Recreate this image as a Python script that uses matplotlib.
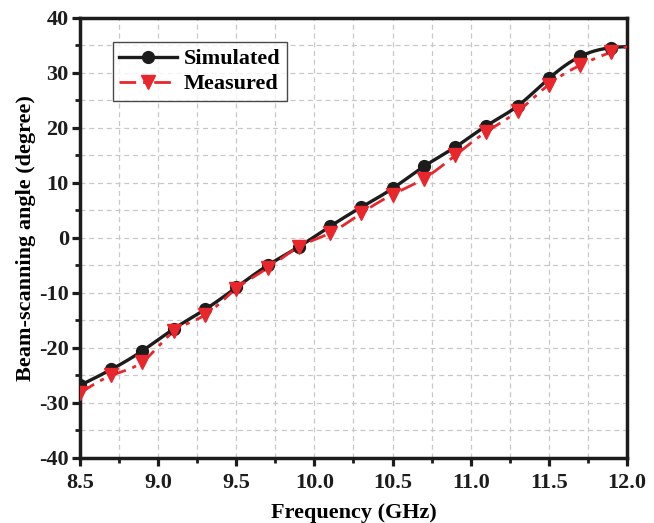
import numpy as np
import matplotlib
matplotlib.use("Agg")
import matplotlib.pyplot as plt
from matplotlib.ticker import MultipleLocator

freq = [8.5, 8.7, 8.9, 9.1, 9.3, 9.5, 9.7, 9.9, 10.1, 10.3, 10.5,
        10.7, 10.9, 11.1, 11.3, 11.5, 11.7, 11.9, 12.0]
simulated = [-26.8, -23.9, -20.5, -16.5, -13.0, -9.0, -5.0, -1.6, 2.1, 5.6,
             9.0, 13.0, 16.5, 20.4, 24.0, 29.0, 33.0, 34.6, 34.8]
measured = [-28.2, -25.0, -22.5, -17.0, -14.0, -9.2, -5.5, -1.6, 0.9, 4.5,
            7.9, 10.8, 15.0, 19.3, 23.0, 27.9, 31.4, 33.8, 34.8]


def spline(x, y, n=600):
    # natural cubic spline, Origin style smooth connection
    x = np.asarray(x, float)
    y = np.asarray(y, float)
    k = len(x)
    h = np.diff(x)
    A = np.zeros((k, k))
    b = np.zeros(k)
    A[0, 0] = A[-1, -1] = 1
    for i in range(1, k - 1):
        A[i, i - 1] = h[i - 1]
        A[i, i] = 2 * (h[i - 1] + h[i])
        A[i, i + 1] = h[i]
        b[i] = 3 * ((y[i + 1] - y[i]) / h[i] - (y[i] - y[i - 1]) / h[i - 1])
    c = np.linalg.solve(A, b)
    xs = np.linspace(x[0], x[-1], n)
    idx = np.clip(np.searchsorted(x, xs) - 1, 0, k - 2)
    dx = xs - x[idx]
    bb = (y[idx + 1] - y[idx]) / h[idx] - h[idx] * (2 * c[idx] + c[idx + 1]) / 3
    d = (c[idx + 1] - c[idx]) / (3 * h[idx])
    ys = y[idx] + bb * dx + c[idx] * dx ** 2 + d * dx ** 3
    return xs, ys


plt.rcParams['font.family'] = ['Liberation Serif', 'DejaVu Serif']
plt.rcParams['font.weight'] = 'bold'
plt.rcParams['axes.unicode_minus'] = False

fig = plt.figure(figsize=(6.54, 5.23), dpi=100)
ax = fig.add_axes([0.1223, 0.1243, 0.8364, 0.8413])

black = '#1c1c1c'
red = '#e8262b'
dashdot = (0, (6, 2.5, 1.5, 2.5))

xs, ys = spline(freq, simulated)
ax.plot(xs, ys, color=black, lw=2.4, zorder=3)
ax.plot(freq[:-1], simulated[:-1], 'o', color=black, ms=8.5, zorder=4)
xs, ym = spline(freq, measured)
ax.plot(xs, ym, color=red, lw=2.0, ls=dashdot, zorder=3)
ax.plot(freq[:-1], measured[:-1], 'v', color=red, ms=9.5, zorder=4)

# legend proxies
ax.plot([], [], '-o', color=black, lw=2.4, ms=8.5, label='Simulated')
ax.plot([], [], 'v', color=red, lw=2.0, ls=dashdot, ms=9.5, label='Measured')
h, l = ax.get_legend_handles_labels()
leg = ax.legend(h[-2:], l[-2:], loc='upper left', bbox_to_anchor=(0.06, 0.945),
                fontsize=16, frameon=True, fancybox=False, edgecolor=black,
                handlelength=2.6, borderpad=0.3, labelspacing=0.2,
                handletextpad=0.3, borderaxespad=0)
leg.get_frame().set_linewidth(1.0)
for t in leg.get_texts():
    t.set_fontweight('bold')

ax.set_xlim(8.5, 12.0)
ax.set_ylim(-40, 40)
ax.xaxis.set_major_locator(MultipleLocator(0.5))
ax.xaxis.set_minor_locator(MultipleLocator(0.25))
ax.yaxis.set_major_locator(MultipleLocator(10))
ax.yaxis.set_minor_locator(MultipleLocator(5))
ax.xaxis.set_major_formatter(matplotlib.ticker.FormatStrFormatter('%.1f'))

ax.grid(True, which='both', color='#c8c8c8', ls=(0, (4, 3)), lw=0.9)
ax.set_axisbelow(True)

for s in ax.spines.values():
    s.set_linewidth(2.5)
    s.set_color(black)
ax.tick_params(which='major', direction='out', length=6, width=2.3,
               labelsize=16, colors=black, pad=2)
ax.tick_params(axis='x', which='major', pad=5)
ax.tick_params(which='minor', direction='out', length=3.5, width=2.0,
               colors=black)
for t in ax.get_xticklabels() + ax.get_yticklabels():
    t.set_fontweight('bold')

ax.set_xlabel('Frequency (GHz)', fontsize=16, fontweight='bold', labelpad=7)
ax.set_ylabel('Beam-scanning angle (degree)', fontsize=16, fontweight='bold',
              labelpad=2)

fig.savefig('out.png', dpi=100)
